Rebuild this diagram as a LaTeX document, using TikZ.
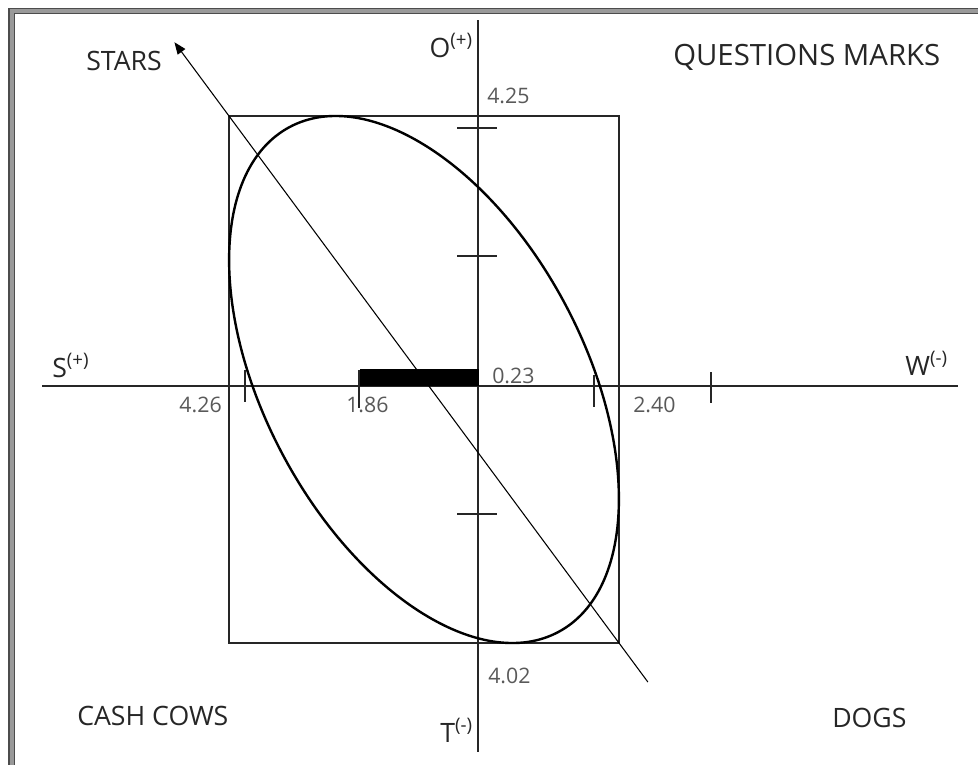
\documentclass[tikz,border=0pt]{standalone}
\usepackage{fontspec}
\setmainfont{Open Sans}
\usetikzlibrary{arrows.meta, calc}

\begin{document}
\begin{tikzpicture}[
  x=0.75pt, y=-0.75pt,
  axis/.style={draw=black!85, line width=0.9pt},
  tick/.style={draw=black!85, line width=0.9pt},
  lbl/.style={inner sep=0pt, font=\fontsize{20}{24}\selectfont, text=black!85},
  num/.style={inner sep=0pt, font=\fontsize{16}{19}\selectfont, text=black!65},
  arr/.style={-{Triangle[length=9pt, width=7pt]}, line width=0.8pt}
]
\useasboundingbox (0,0) rectangle (978,764);
% frame
\draw[draw=black!70, line width=0.8pt, double=black!40, double distance=3pt]
  (11.5,780) -- (11.5,11) -- (990,11);

% axes
\coordinate (wend) at (42,386);
\coordinate (eend) at (958,386);
\coordinate (nend) at (478,20);
\coordinate (send) at (478,752);
\draw[axis] (wend) -- (eend);
\draw[axis] (nend) -- (send);

% box and trend line
\coordinate (tl) at (229,116);
\coordinate (br) at (619,643);
\draw[axis] (tl) rectangle (br);
\coordinate (tip) at ($(tl)!-0.14!(br)$);
\coordinate (tail) at ($(tl)!1.074!(br)$);
\draw[arr] (tail) -- (tip);

% ellipse
\draw[line width=1.8pt, rotate around={-62:(424,379.5)}]
  (424,379.5) ellipse [x radius=286, y radius=160];

% ticks
\foreach \ty in {128,256,514}
  \draw[tick] (457,\ty) -- (497,\ty);
\foreach \tx/\ya/\yb in {245/370/402, 359/370/408, 594/375/407, 711/372/403}
  \draw[tick] (\tx,\ya) -- (\tx,\yb);
\fill (360,369) rectangle (479,386);

% axis labels
\node[lbl, anchor=base west] (sl) at (52,377) {S\textsuperscript{(+)}};
\node[lbl, anchor=base east] (wl) at (948,375) {W\textsuperscript{(-)}};
\node[lbl, anchor=base east] (ol) at (473,57) {O\textsuperscript{(+)}};
\node[lbl, anchor=base east] (tlbl) at (473,742) {T\textsuperscript{(-)}};

% quadrants
\node[lbl, anchor=base west] (stars) at (86,70) {STARS};
\node[lbl, anchor=base west, font=\fontsize{22}{26}\selectfont] (qm) at (673,65) {QUESTIONS MARKS};
\node[lbl, anchor=base west] (cows) at (77,725) {CASH COWS};
\node[lbl, anchor=base west] (dogs) at (832,727) {DOGS};

% values
\node[num, anchor=base west] (v425) at (487,103) {4.25};
\node[num, anchor=base east] (v426) at (222,412) {4.26};
\node[num, anchor=base west] (v186) at (346,412) {1.86};
\node[num, anchor=base west] (v023) at (492,383) {0.23};
\node[num, anchor=base west] (v240) at (633,412) {2.40};
\node[num, anchor=base west] (v402) at (488,683) {4.02};
\end{tikzpicture}
\end{document}
